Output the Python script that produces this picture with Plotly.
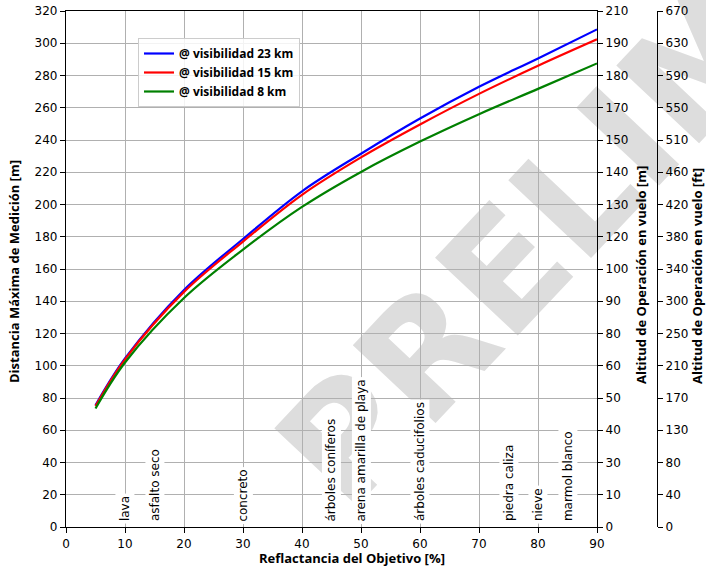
import math
import plotly.graph_objects as go

# ---------------- data ----------------
reflect = [5, 10, 20, 30, 40, 50, 60, 70, 80, 90]
dist_23km = [75.5, 104.5, 147.0, 178.6, 208.2, 231.5, 253.3, 273.0, 290.6, 308.6]
dist_15km = [75.0, 104.0, 145.8, 177.0, 206.0, 229.2, 249.6, 268.6, 286.0, 302.4]
dist_8km = [73.5, 102.0, 142.0, 172.0, 198.5, 220.2, 239.0, 256.0, 271.7, 287.5]

left_ticks = list(range(0, 321, 20))
alt_m_labels = ["0", "10", "30", "40", "50", "60", "80", "90", "100", "120",
                "130", "140", "150", "170", "180", "190", "210"]
alt_ft_labels = ["0", "40", "80", "130", "170", "210", "250", "300", "340",
                 "380", "420", "460", "510", "550", "590", "630", "670"]

materials = ["lava", "asfalto seco", "concreto", "árboles coníferos",
             "arena amarilla de playa", "árboles caducifolios",
             "piedra caliza", "nieve", "marmol blanco"]
material_refl = [10, 15, 30, 45, 50, 60, 75, 80, 85]

x_title = "Reflactancia del Objetivo [%]"
y_title = "Distancia Máxima de Medición [m]"
y2_title = "Altitud de Operación en vuelo [m]"
y3_title = "Altitud de Operación en vuelo [ft]"

# ---------------- layout geometry ----------------
W, H = 706, 567
ml, mr, mt, mb = 66, 10, 11, 40
pw = W - ml - mr
ph = H - mt - mb
xdom = 531 / pw


def px2paper(px, py):
    return (px - ml) / pw, (H - mb - py) / ph


TICKFONT = dict(family="DejaVu Sans", size=12, color="black")
TITLEFONT = dict(family="Open Sans", size=13, color="black", weight="bold")

fig = go.Figure()
series = [("@ visibilidad 23 km", dist_23km, "#0000ff"),
          ("@ visibilidad 15 km", dist_15km, "#ff0000"),
          ("@ visibilidad 8 km", dist_8km, "#008000")]
for name, ys, col in series:
    fig.add_trace(go.Scatter(x=reflect, y=ys, mode="lines", name=name,
                             line=dict(color=col, width=2.2, shape="spline")))

# invisible traces so the secondary axes are bound to data
for ax in ("y2", "y3"):
    fig.add_trace(go.Scatter(x=reflect, y=dist_23km, yaxis=ax, mode="lines",
                             line=dict(color="rgba(0,0,0,0)"), showlegend=False,
                             hoverinfo="skip"))

annotations = []
# material annotations
for name, xv in zip(materials, material_refl):
    annotations.append(dict(x=xv, y=1.5, xref="x", yref="y", text=name,
                            textangle=-90, showarrow=False,
                            xanchor="center", yanchor="bottom",
                            bgcolor="white", borderpad=2,
                            font=dict(family="DejaVu Sans", size=12, color="black")))

# axis titles as annotations (precise placement)
for txt, (px, py), rot in [(x_title, (352, 558), 0),
                           (y_title, (14, 272), -90),
                           (y2_title, (641, 275), -90),
                           (y3_title, (697, 276), -90)]:
    xp, yp = px2paper(px, py)
    annotations.append(dict(x=xp, y=yp, xref="paper", yref="paper", text=txt,
                            textangle=rot, showarrow=False,
                            xanchor="center", yanchor="middle", font=TITLEFONT))

# watermark
ang = math.radians(46.7)
sx, sy = 300, 472
Lw = 600
ex, ey = sx + Lw * math.cos(ang), sy - Lw * math.sin(ang)
x0, y0 = px2paper(sx, sy)
x1, y1 = px2paper(ex, ey)
shapes = [dict(type="line", xref="paper", yref="paper", x0=x0, y0=y0, x1=x1, y1=y1,
               line=dict(width=0, color="rgba(0,0,0,0)"), layer="below",
               label=dict(text="PRELIMINAR", textposition="start",
                          yanchor="middle", padding=0,
                          font=dict(family="DejaVu Sans", size=156,
                                    color="#dddddd", weight="bold")))]

axis_common = dict(showline=True, linecolor="black", linewidth=1.3,
                   ticks="outside", ticklen=5, tickwidth=1, tickcolor="black",
                   tickfont=TICKFONT, zeroline=False)

fig.update_layout(
    width=W, height=H,
    margin=dict(l=ml, r=mr, t=mt, b=mb, autoexpand=False),
    paper_bgcolor="white", plot_bgcolor="white",
    showlegend=True,
    legend=dict(x=px2paper(138, 38)[0], y=px2paper(138, 38)[1],
                xanchor="left", yanchor="top",
                bgcolor="rgba(255,255,255,0.85)", bordercolor="#cccccc",
                borderwidth=1, tracegroupgap=0,
                font=dict(family="Open Sans", size=12, color="black", weight="bold")),
    xaxis=dict(domain=[0, xdom], range=[0, 90], dtick=10, tick0=0,
               showgrid=True, gridcolor="#b0b0b0", gridwidth=1, mirror=True,
               **axis_common),
    yaxis=dict(range=[0, 320], tickvals=left_ticks,
               showgrid=True, gridcolor="#b0b0b0", gridwidth=1,
               **axis_common),
    yaxis2=dict(overlaying="y", side="right", anchor="x", range=[0, 320],
                tickvals=left_ticks, ticktext=alt_m_labels, showgrid=False,
                **axis_common),
    yaxis3=dict(overlaying="y", side="right", anchor="free",
                position=(657 - ml) / pw, range=[0, 320],
                tickvals=left_ticks, ticktext=alt_ft_labels, showgrid=False,
                **axis_common),
    annotations=annotations,
    shapes=shapes,
)

fig.write_html("out.html")
